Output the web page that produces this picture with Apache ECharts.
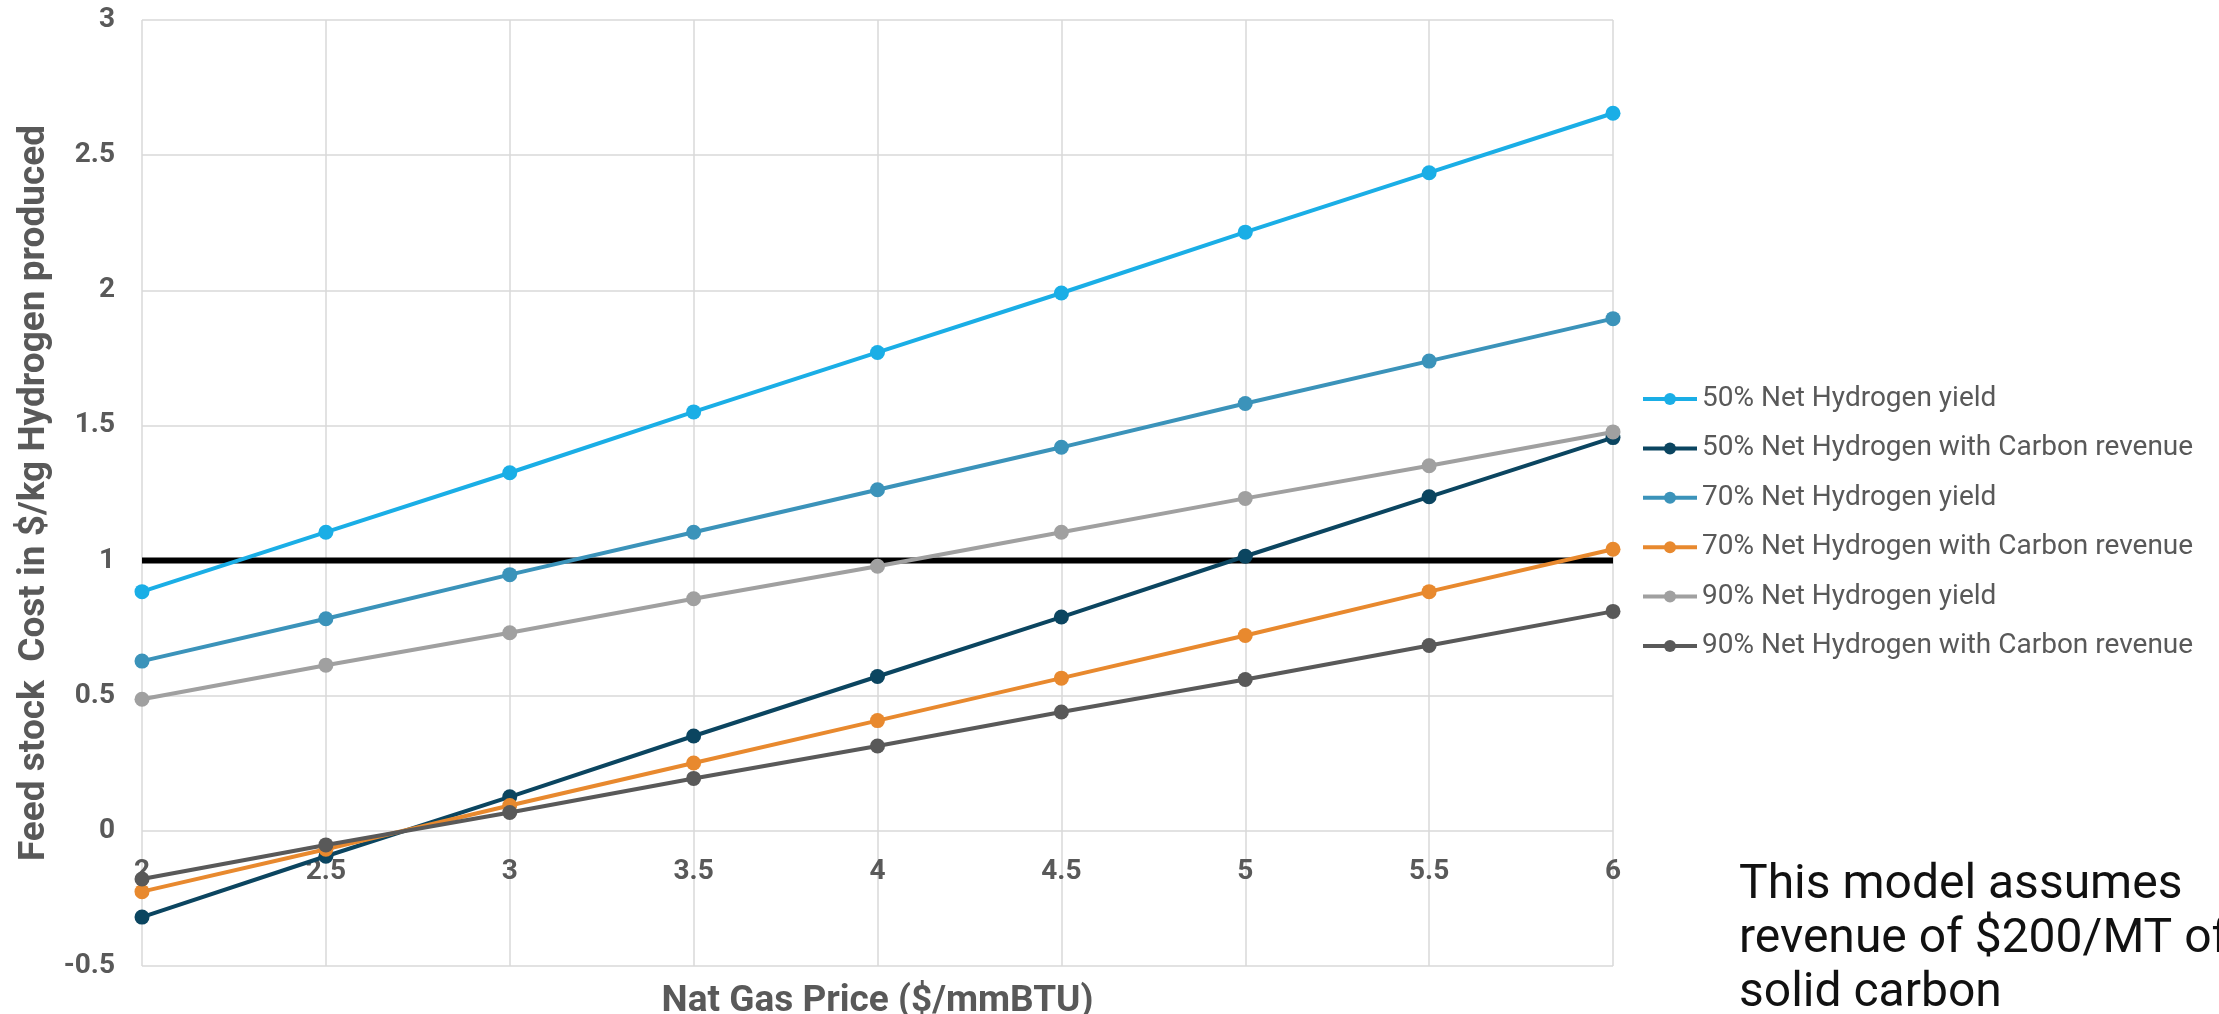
<!DOCTYPE html>
<html>
<head>
<meta charset="utf-8">
<script src="https://cdn.jsdelivr.net/npm/echarts@6/dist/echarts.min.js"></script>
<style>
html,body{margin:0;padding:0;background:#fff;}
#chart{width:2219px;height:1014px;}
</style>
</head>
<body>
<div id="chart"></div>
<script>
const xValues = [2, 2.5, 3, 3.5, 4, 4.5, 5, 5.5, 6];
const seriesNames = [
  '50% Net Hydrogen yield',
  '50% Net Hydrogen with Carbon revenue',
  '70% Net Hydrogen yield',
  '70% Net Hydrogen with Carbon revenue',
  '90% Net Hydrogen yield',
  '90% Net Hydrogen with Carbon revenue'
];
const yield50 = [0.885, 1.105, 1.325, 1.55, 1.77, 1.99, 2.215, 2.435, 2.655];
const carbon50 = [-0.319, -0.094, 0.126, 0.351, 0.571, 0.791, 1.016, 1.236, 1.455];
const yield70 = [0.628, 0.785, 0.948, 1.105, 1.262, 1.419, 1.581, 1.738, 1.895];
const carbon70 = [-0.225, -0.068, 0.094, 0.251, 0.408, 0.565, 0.723, 0.885, 1.042];
const yield90 = [0.487, 0.613, 0.733, 0.859, 0.979, 1.105, 1.23, 1.351, 1.476];
const carbon90 = [-0.178, -0.052, 0.068, 0.194, 0.314, 0.44, 0.56, 0.686, 0.812];
const targetCost = 1;
const yMin = -0.5, yMax = 3, yStep = 0.5;
const xMin = 2, xMax = 6, xStep = 0.5;
const colors = ['#1aaee6', '#0b4560', '#3b93ba', '#e8892e', '#a0a0a0', '#595959'];
const noteText = 'This model assumes\nrevenue of $200/MT of\nsolid carbon';

const allData = [yield50, carbon50, yield70, carbon70, yield90, carbon90];
const font = 'Roboto';
const gridTop = 20, gridBottom = 48, chartH = 1014;
const plotH = chartH - gridTop - gridBottom;
const zeroOffset = -plotH * (0 - yMin) / (yMax - yMin);

const series = allData.map((arr, i) => ({
  name: seriesNames[i],
  type: 'line',
  data: arr.map((v, j) => [xValues[j], v]),
  symbol: 'circle',
  symbolSize: 15,
  lineStyle: { width: 4, color: colors[i] },
  itemStyle: { color: colors[i] },
  z: 3
}));
series.push({
  name: 'target',
  type: 'line',
  data: [[xMin, targetCost], [xMax, targetCost]],
  symbol: 'none',
  lineStyle: { width: 6, color: '#000' },
  z: 2,
  silent: true
});

const chart = echarts.init(document.getElementById('chart'));
chart.setOption({
  backgroundColor: '#fff',
  animation: false,
  color: colors,
  grid: { left: 142, right: 606, top: gridTop, bottom: gridBottom, containLabel: false, outerBoundsMode: 'none' },
  xAxis: {
    type: 'value', min: xMin, max: xMax, interval: xStep,
    position: 'bottom', offset: zeroOffset,
    name: 'Nat Gas Price ($/mmBTU)',
    nameLocation: 'middle', nameGap: 152,
    nameTextStyle: { fontFamily: font, fontWeight: 'bold', fontSize: 37, color: '#595959' },
    axisLine: { show: false, onZero: false },
    axisTick: { show: false },
    axisLabel: { fontFamily: font, fontWeight: 'bold', fontSize: 28, color: '#595959', margin: 27 },
    splitLine: { show: true, lineStyle: { color: '#d9d9d9', width: 1.5 } }
  },
  yAxis: {
    type: 'value', min: yMin, max: yMax, interval: yStep,
    name: 'Feed stock  Cost in $/kg Hydrogen produced',
    nameLocation: 'middle', nameGap: 87, nameRotate: 90,
    nameTextStyle: { fontFamily: font, fontWeight: 'bold', fontSize: 37, color: '#595959' },
    axisLine: { show: false },
    axisTick: { show: false },
    axisLabel: { fontFamily: font, fontWeight: 'bold', fontSize: 28, color: '#595959', margin: 27 },
    splitLine: { show: true, lineStyle: { color: '#d9d9d9', width: 1.5 } }
  },
  legend: {
    data: seriesNames,
    orient: 'vertical',
    left: 1641, top: 385, padding: 0,
    itemWidth: 54, itemHeight: 15, itemGap: 21.4,
    lineStyle: { width: 4 },
    textStyle: { fontFamily: font, fontSize: 28, color: '#595959', lineHeight: 28 }
  },
  graphic: [{
    type: 'text', left: 1739, top: 859,
    style: { text: noteText, fontFamily: font, fontSize: 48, lineHeight: 54, fill: '#111' }
  }],
  series: series
});
</script>
</body>
</html>
